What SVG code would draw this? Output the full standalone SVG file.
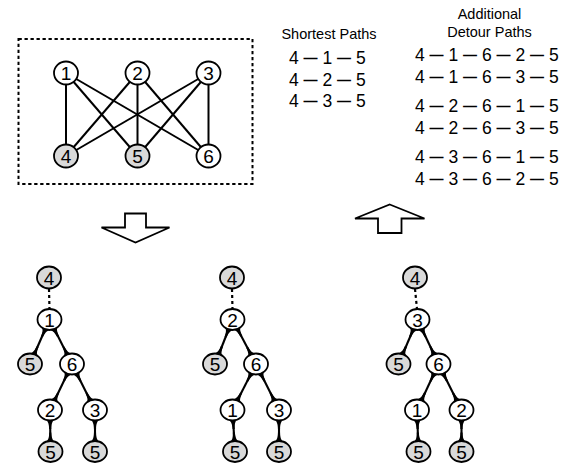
<svg xmlns="http://www.w3.org/2000/svg" width="579" height="468" viewBox="0 0 579 468">
  <style>
    .nd { fill: #ffffff; stroke: #000000; stroke-width: 1.8; }
    .sh { fill: #d9d9d9; }
    .num { font-family: "Liberation Sans", Arial, sans-serif; font-size: 19px; text-anchor: middle; fill: #000000; }
    .path { font-family: "Liberation Sans", Arial, sans-serif; font-size: 17.5px; fill: #000000; }
    .d { font-size: 14px; font-weight: bold; baseline-shift: 1.5px; }
    .title { font-family: "Liberation Sans", Arial, sans-serif; font-size: 14.5px; text-anchor: middle; fill: #000000; }
    .edge { stroke: #000000; stroke-width: 2; fill: none; }
    .tedge { stroke: #000000; stroke-width: 2.1; fill: none; marker-start: url(#flare); marker-end: url(#flare); }
    .dot { stroke: #000000; stroke-width: 2.2; stroke-dasharray: 3 3; fill: none; }
    .arrow { fill: #ffffff; stroke: #000000; stroke-width: 1.8; stroke-linejoin: miter; }
  </style>
  <defs>
    <!-- flared end where a tree edge meets its node -->
    <marker id="flare" markerUnits="userSpaceOnUse" orient="auto-start-reverse" refX="0" refY="0"
            viewBox="-22 -5 22 10" markerWidth="22" markerHeight="10" overflow="visible">
      <path d="M -5 -3.8 L -10 -3.8 C -12 -2 -14 -1.15 -19 -1.05 L -19 1.05 C -14 1.15 -12 2 -10 3.8 L -5 3.8 Z" fill="#000000"/>
    </marker>
  </defs>

  <!-- dashed frame round the bipartite graph -->
  <rect x="18.5" y="39" width="234" height="145" fill="none" stroke="#000000" stroke-width="2" stroke-dasharray="3.3 2.7"/>

  <!-- graph edges -->
  <g id="graph-edges">
    <line class="edge" x1="66" y1="73" x2="66" y2="156"/>
    <line class="edge" x1="66" y1="73" x2="137.5" y2="156"/>
    <line class="edge" x1="66" y1="73" x2="208.5" y2="156"/>
    <line class="edge" x1="137.5" y1="73" x2="66" y2="156"/>
    <line class="edge" x1="137.5" y1="73" x2="137.5" y2="156"/>
    <line class="edge" x1="137.5" y1="73" x2="208.5" y2="156"/>
    <line class="edge" x1="208.5" y1="73" x2="66" y2="156"/>
    <line class="edge" x1="208.5" y1="73" x2="137.5" y2="156"/>
    <line class="edge" x1="208.5" y1="73" x2="208.5" y2="156"/>
  </g>

  <!-- graph nodes -->
  <g id="g1"><ellipse class="nd" cx="66" cy="73" rx="12" ry="11.5"/><text class="num" x="66" y="80">1</text></g>
  <g id="g2"><ellipse class="nd" cx="137.5" cy="73" rx="12" ry="11.5"/><text class="num" x="137.5" y="80">2</text></g>
  <g id="g3"><ellipse class="nd" cx="208.5" cy="73" rx="12" ry="11.5"/><text class="num" x="208.5" y="80">3</text></g>
  <g id="g4"><ellipse class="nd sh" cx="66" cy="156" rx="12" ry="11.5"/><text class="num" x="66" y="163">4</text></g>
  <g id="g5"><ellipse class="nd sh" cx="137.5" cy="156" rx="12" ry="11.5"/><text class="num" x="137.5" y="163">5</text></g>
  <g id="g6"><ellipse class="nd" cx="208.5" cy="156" rx="12" ry="11.5"/><text class="num" x="208.5" y="163">6</text></g>

  <!-- path listings -->
  <g id="shortest-paths">
    <text class="title" x="329" y="39">Shortest Paths</text>
    <text class="path" x="289" y="63.5">4 <tspan class="d">—</tspan> 1 <tspan class="d">—</tspan> 5</text>
    <text class="path" x="289" y="85.5">4 <tspan class="d">—</tspan> 2 <tspan class="d">—</tspan> 5</text>
    <text class="path" x="289" y="107">4 <tspan class="d">—</tspan> 3 <tspan class="d">—</tspan> 5</text>
  </g>
  <g id="detour-paths">
    <text class="title" x="489.5" y="18.5">Additional</text>
    <text class="title" x="489.5" y="36.5">Detour Paths</text>
    <text class="path" x="415" y="61">4 <tspan class="d">—</tspan> 1 <tspan class="d">—</tspan> 6 <tspan class="d">—</tspan> 2 <tspan class="d">—</tspan> 5</text>
    <text class="path" x="415" y="83">4 <tspan class="d">—</tspan> 1 <tspan class="d">—</tspan> 6 <tspan class="d">—</tspan> 3 <tspan class="d">—</tspan> 5</text>
    <text class="path" x="415" y="111.5">4 <tspan class="d">—</tspan> 2 <tspan class="d">—</tspan> 6 <tspan class="d">—</tspan> 1 <tspan class="d">—</tspan> 5</text>
    <text class="path" x="415" y="134">4 <tspan class="d">—</tspan> 2 <tspan class="d">—</tspan> 6 <tspan class="d">—</tspan> 3 <tspan class="d">—</tspan> 5</text>
    <text class="path" x="415" y="162.5">4 <tspan class="d">—</tspan> 3 <tspan class="d">—</tspan> 6 <tspan class="d">—</tspan> 1 <tspan class="d">—</tspan> 5</text>
    <text class="path" x="415" y="184.5">4 <tspan class="d">—</tspan> 3 <tspan class="d">—</tspan> 6 <tspan class="d">—</tspan> 2 <tspan class="d">—</tspan> 5</text>
  </g>

  <!-- block arrows -->
  <g id="arrow-down"><polygon class="arrow" points="125,213.5 146,213.5 146,227.5 169.5,227.5 135.5,242.5 101.5,227.5 125,227.5"/></g>
  <g id="arrow-up"><polygon class="arrow" points="389.75,204.5 424.5,218.5 401.5,218.5 401.5,233 378,233 378,218.5 355,218.5"/></g>

  <!-- tree connectors -->
  <g id="tree-edges">
    <!-- tree rooted at 1 -->
    <line class="dot" x1="49" y1="289" x2="49.5" y2="309"/>
    <line class="tedge" x1="49.5" y1="319.5" x2="30" y2="364"/>
    <line class="tedge" x1="49.5" y1="319.5" x2="72" y2="364"/>
    <line class="tedge" x1="72" y1="364" x2="50" y2="410"/>
    <line class="tedge" x1="72" y1="364" x2="95" y2="410"/>
    <line class="tedge" x1="50" y1="410" x2="50.5" y2="451.5"/>
    <line class="tedge" x1="95" y1="410" x2="95" y2="451.5"/>
    <!-- tree rooted at 2 -->
    <line class="dot" x1="232" y1="289" x2="232.5" y2="309"/>
    <line class="tedge" x1="232.5" y1="319.5" x2="215" y2="364"/>
    <line class="tedge" x1="232.5" y1="319.5" x2="256" y2="364"/>
    <line class="tedge" x1="256" y1="364" x2="232.5" y2="410"/>
    <line class="tedge" x1="256" y1="364" x2="279" y2="410"/>
    <line class="tedge" x1="232.5" y1="410" x2="235" y2="451.5"/>
    <line class="tedge" x1="279" y1="410" x2="279" y2="451.5"/>
    <!-- tree rooted at 3 -->
    <line class="dot" x1="415" y1="289" x2="417" y2="309"/>
    <line class="tedge" x1="417.5" y1="319.5" x2="398.5" y2="364"/>
    <line class="tedge" x1="417.5" y1="319.5" x2="438.5" y2="364"/>
    <line class="tedge" x1="438.5" y1="364" x2="417" y2="410"/>
    <line class="tedge" x1="438.5" y1="364" x2="461.5" y2="410"/>
    <line class="tedge" x1="417" y1="410" x2="418.5" y2="451.5"/>
    <line class="tedge" x1="461.5" y1="410" x2="461.5" y2="451.5"/>
  </g>

  <!-- tree 1 nodes -->
  <g id="t1-4"><ellipse class="nd sh" cx="49" cy="277.5" rx="12" ry="11"/><text class="num" x="49" y="284.5">4</text></g>
  <g id="t1-1"><ellipse class="nd" cx="49.5" cy="319.5" rx="12" ry="10.5"/><text class="num" x="49.5" y="326.5">1</text></g>
  <g id="t1-5a"><ellipse class="nd sh" cx="30" cy="364" rx="12" ry="10.5"/><text class="num" x="30" y="371">5</text></g>
  <g id="t1-6"><ellipse class="nd" cx="72" cy="364" rx="12" ry="10.5"/><text class="num" x="72" y="371">6</text></g>
  <g id="t1-2"><ellipse class="nd" cx="50" cy="410" rx="12" ry="10.5"/><text class="num" x="50" y="417">2</text></g>
  <g id="t1-3"><ellipse class="nd" cx="95" cy="410" rx="12" ry="10.5"/><text class="num" x="95" y="417">3</text></g>
  <g id="t1-5b"><ellipse class="nd sh" cx="50.5" cy="451.5" rx="12" ry="10.5"/><text class="num" x="50.5" y="458.5">5</text></g>
  <g id="t1-5c"><ellipse class="nd sh" cx="95" cy="451.5" rx="12" ry="10.5"/><text class="num" x="95" y="458.5">5</text></g>

  <!-- tree 2 nodes -->
  <g id="t2-4"><ellipse class="nd sh" cx="232" cy="277.5" rx="12" ry="11"/><text class="num" x="232" y="284.5">4</text></g>
  <g id="t2-2"><ellipse class="nd" cx="232.5" cy="319.5" rx="12" ry="10.5"/><text class="num" x="232.5" y="326.5">2</text></g>
  <g id="t2-5a"><ellipse class="nd sh" cx="215" cy="364" rx="12" ry="10.5"/><text class="num" x="215" y="371">5</text></g>
  <g id="t2-6"><ellipse class="nd" cx="256" cy="364" rx="12" ry="10.5"/><text class="num" x="256" y="371">6</text></g>
  <g id="t2-1"><ellipse class="nd" cx="232.5" cy="410" rx="12" ry="10.5"/><text class="num" x="232.5" y="417">1</text></g>
  <g id="t2-3"><ellipse class="nd" cx="279" cy="410" rx="12" ry="10.5"/><text class="num" x="279" y="417">3</text></g>
  <g id="t2-5b"><ellipse class="nd sh" cx="235" cy="451.5" rx="12" ry="10.5"/><text class="num" x="235" y="458.5">5</text></g>
  <g id="t2-5c"><ellipse class="nd sh" cx="279" cy="451.5" rx="12" ry="10.5"/><text class="num" x="279" y="458.5">5</text></g>

  <!-- tree 3 nodes -->
  <g id="t3-4"><ellipse class="nd sh" cx="415" cy="277.5" rx="12" ry="11"/><text class="num" x="415" y="284.5">4</text></g>
  <g id="t3-3"><ellipse class="nd" cx="417.5" cy="319.5" rx="12" ry="10.5"/><text class="num" x="417.5" y="326.5">3</text></g>
  <g id="t3-5a"><ellipse class="nd sh" cx="398.5" cy="364" rx="12" ry="10.5"/><text class="num" x="398.5" y="371">5</text></g>
  <g id="t3-6"><ellipse class="nd" cx="438.5" cy="364" rx="12" ry="10.5"/><text class="num" x="438.5" y="371">6</text></g>
  <g id="t3-1"><ellipse class="nd" cx="417" cy="410" rx="12" ry="10.5"/><text class="num" x="417" y="417">1</text></g>
  <g id="t3-2"><ellipse class="nd" cx="461.5" cy="410" rx="12" ry="10.5"/><text class="num" x="461.5" y="417">2</text></g>
  <g id="t3-5b"><ellipse class="nd sh" cx="418.5" cy="451.5" rx="12" ry="10.5"/><text class="num" x="418.5" y="458.5">5</text></g>
  <g id="t3-5c"><ellipse class="nd sh" cx="461.5" cy="451.5" rx="12" ry="10.5"/><text class="num" x="461.5" y="458.5">5</text></g>
</svg>
